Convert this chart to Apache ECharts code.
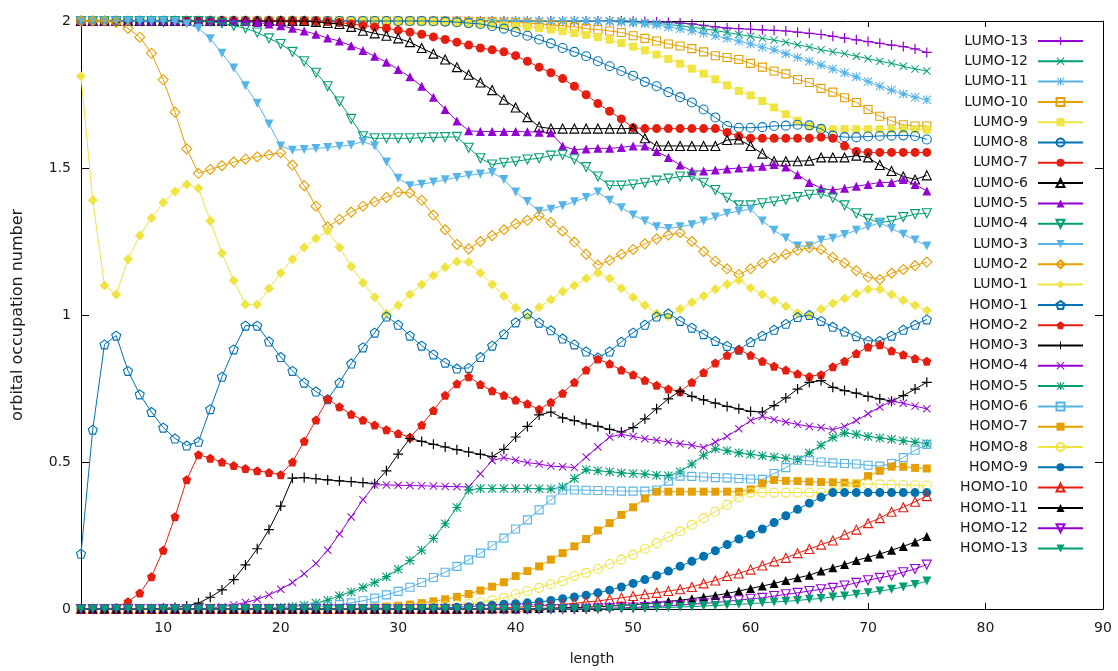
<!DOCTYPE html>
<html>
<head>
<meta charset="utf-8">
<script src="https://cdn.jsdelivr.net/npm/echarts@6/dist/echarts.min.js"></script>
<style>
  html, body { margin: 0; padding: 0; background: #ffffff; }
  #chart { width: 1118px; height: 671px; }
</style>
</head>
<body>
<div id="chart"></div>
<script>
// chain length (x)
const lengths = [3,4,5,6,7,8,9,10,11,12,13,14,15,16,17,18,19,20,21,22,23,24,25,26,27,28,29,30,31,32,33,34,35,36,37,38,39,40,41,42,43,44,45,46,47,48,49,50,51,52,53,54,55,56,57,58,59,60,61,62,63,64,65,66,67,68,69,70,71,72,73,74,75];

const xTicks = [10, 20, 30, 40, 50, 60, 70, 80, 90];

// occupation numbers, one list per natural orbital
const LUMO13 = [2,2,2,2,2,2,2,2,2,2, 2,2,2,2,2,2,2,2,2,2, 2,2,2,2,2,2,2,2,2,2, 2,2,2,2,2,2,2,2,2,2,
  2,2,2,2,2,2,2,1.999,1.998,1.997, 1.995,1.993,1.99,1.985,1.98,1.976,1.974,1.972,1.97,1.968,
  1.966,1.962,1.958,1.954,1.948,1.942,1.936,1.93,1.924,1.918, 1.913,1.905,1.893];
const LUMO12 = [2,2,2,2,2,2,2,2,2,2, 2,2,2,2,2,2,2,2,2,2, 2,2,2,2,2,2,2,2,2,2, 2,2,2,2,2,2,2,2,2,2,
  2,2,2,2,2,2,2,1.998,1.995,1.992, 1.988,1.984,1.979,1.974,1.967,1.961,1.954,1.948,1.941,1.935,
  1.928,1.919,1.911,1.902,1.895,1.889,1.88,1.872,1.863,1.856, 1.846,1.837,1.83];
const LUMO11 = [2,2,2,2,2,2,2,2,2,2, 2,2,2,2,2,2,2,2,2,2, 2,2,2,2,2,2,2,2,2,2, 2,2,2,2,2,2,2,2,2,2,
  2,2,2,2,2,1.998,1.996,1.994,1.991,1.987, 1.98,1.974,1.967,1.958,1.95,1.941,1.932,1.922,1.911,1.902,
  1.889,1.876,1.863,1.85,1.837,1.824,1.81,1.794,1.778,1.765, 1.752,1.741,1.732];
const LUMO10 = [2,2,2,2,2,2,2,2,2,2, 2,2,2,2,2,2,2,2,2,2, 2,2,2,2,2,2,2,2,2,2,
  2,2,2,1.999,1.998,1.997,1.996,1.995,1.993,1.99, 1.987,1.984,1.98,1.974,1.971,1.966,1.961,1.95,1.941,1.932,
  1.922,1.915,1.906,1.895,1.882,1.876,1.869,1.856,1.843,1.83, 1.82,1.801,1.791,1.771,1.758,1.739,1.723,1.699,1.676,1.66,
  1.647,1.643,1.643];
const LUMO9 = [2,2,2,2,2,2,2,2,2,2, 2,2,2,2,2,2,2,2,2,2, 2,2,2,2,2,2,2,2,1.999,1.998,
  1.997,1.996,1.994,1.992,1.99,1.987,1.984,1.982,1.979,1.976, 1.971,1.965,1.959,1.953,1.945,1.936,1.925,1.913,1.9,1.886,
  1.871,1.855,1.838,1.821,1.802,1.781,1.762,1.747,1.728,1.706, 1.683,1.661,1.642,1.634,1.632,1.632,1.632,1.632,1.632,1.632,
  1.632,1.632,1.63];
const LUMO8 = [2,2,2,2,2,2,2,2,2,2, 2,2,2,2,2,2,2,2,2,2, 2,2,2,2,2,2,2,2,2,2,
  1.999,1.998,1.996,1.993,1.99,1.982,1.974,1.963,1.95,1.937, 1.924,1.908,1.895,1.88,1.863,1.846,1.83,1.814,1.793,1.778,
  1.758,1.741,1.723,1.699,1.672,1.643,1.637,1.637,1.639,1.643, 1.644,1.647,1.645,1.633,1.61,1.605,1.605,1.607,1.609,1.61,
  1.611,1.609,1.597];
const LUMO7 = [2,2,2,2,2,2,2,2,2,2, 2,2,2,2,2,2,2,2,2,2,
  2,1.998,1.995,1.99,1.985,1.98,1.975,1.968,1.962,1.955, 1.946,1.937,1.928,1.918,1.908,1.902,1.895,1.882,1.863,1.843,
  1.824,1.804,1.778,1.749,1.719,1.693,1.667,1.637,1.634,1.634, 1.634,1.634,1.634,1.634,1.634,1.621,1.608,1.601,1.601,1.601,
  1.601,1.601,1.601,1.605,1.601,1.575,1.556,1.553,1.553,1.553, 1.553,1.553,1.553];
const LUMO6 = [2,2,2,2,2,2,2,2,2,2, 2,2,2,2,2,2,2,2,2,2,
  1.997,1.993,1.99,1.98,1.967,1.958,1.95,1.941,1.928,1.908, 1.889,1.869,1.843,1.817,1.791,1.765,1.732,1.706,1.673,1.64,
  1.634,1.634,1.634,1.634,1.634,1.634,1.634,1.634,1.601,1.575, 1.575,1.575,1.575,1.575,1.575,1.595,1.597,1.575,1.549,1.523,
  1.523,1.523,1.525,1.536,1.536,1.536,1.542,1.536,1.51,1.49, 1.471,1.461,1.475];
const LUMO5 = [2,2,2,2,2,2,2,2,2,2, 2,2,2,2,1.998,1.995,1.99,1.984,1.975,1.966,
  1.955,1.942,1.932,1.916,1.9,1.88,1.86,1.835,1.81,1.778, 1.741,1.699,1.66,1.627,1.624,1.624,1.624,1.624,1.623,1.622,
  1.62,1.575,1.562,1.565,1.567,1.567,1.57,1.575,1.575,1.556, 1.536,1.51,1.49,1.49,1.493,1.497,1.5,1.503,1.506,1.512,
  1.503,1.477,1.451,1.431,1.425,1.431,1.438,1.444,1.451,1.451, 1.461,1.444,1.422];
const LUMO4 = [2,2,2,2,2,2,2,2,2,2, 2,1.998,1.992,1.984,1.975,1.961,1.941,1.922,1.895,1.863,
  1.824,1.778,1.726,1.667,1.608,1.601,1.601,1.601,1.601,1.603, 1.604,1.605,1.606,1.569,1.533,1.512,1.518,1.522,1.529,1.533,
  1.542,1.545,1.53,1.503,1.471,1.44,1.44,1.444,1.45,1.457, 1.464,1.471,1.471,1.45,1.425,1.399,1.373,1.373,1.38,1.386,
  1.392,1.401,1.409,1.412,1.399,1.373,1.346,1.327,1.314,1.32, 1.333,1.343,1.346];
const LUMO3 = [2,2,2,2,2,2,2,2,1.998,1.99, 1.975,1.94,1.89,1.84,1.78,1.72,1.65,1.575,1.56,1.563,
  1.566,1.57,1.574,1.578,1.59,1.575,1.52,1.465,1.44,1.445, 1.452,1.46,1.468,1.475,1.48,1.485,1.461,1.418,1.386,1.353,
  1.36,1.372,1.385,1.4,1.418,1.39,1.365,1.34,1.32,1.3, 1.294,1.3,1.307,1.32,1.333,1.346,1.353,1.36,1.32,1.288,
  1.262,1.235,1.235,1.255,1.261,1.274,1.288,1.3,1.314,1.294, 1.275,1.255,1.235];
const LUMO2 = [2,2,2,1.995,1.975,1.945,1.89,1.8,1.69,1.565, 1.482,1.495,1.508,1.52,1.53,1.538,1.545,1.552,1.51,1.44,
  1.37,1.3,1.325,1.35,1.37,1.385,1.4,1.418,1.415,1.39, 1.34,1.29,1.24,1.225,1.25,1.27,1.29,1.31,1.322,1.338,
  1.315,1.285,1.248,1.207,1.17,1.186,1.207,1.223,1.242,1.259, 1.272,1.28,1.25,1.216,1.183,1.157,1.138,1.157,1.177,1.194,
  1.207,1.22,1.229,1.223,1.196,1.177,1.151,1.129,1.121,1.142, 1.155,1.168,1.18];
const LUMO1 = [1.812,1.39,1.1,1.07,1.19,1.27,1.33,1.383,1.42,1.444, 1.431,1.32,1.21,1.117,1.036,1.036,1.09,1.143,1.19,1.23,
  1.26,1.286,1.23,1.165,1.11,1.06,1.005,1.033,1.07,1.104, 1.134,1.162,1.182,1.18,1.143,1.104,1.065,1.025,0.995,1.026,
  1.052,1.08,1.1,1.124,1.144,1.124,1.091,1.06,1.033,1.005, 0.995,1.02,1.043,1.065,1.088,1.105,1.118,1.092,1.07,1.05,
  1.03,1.007,1.0,1.02,1.04,1.056,1.072,1.088,1.088,1.07, 1.05,1.033,1.015];
const HOMO1 = [0.188,0.61,0.9,0.93,0.81,0.73,0.67,0.617,0.58,0.556, 0.569,0.68,0.79,0.883,0.964,0.964,0.91,0.857,0.81,0.77,
  0.74,0.714,0.77,0.835,0.89,0.94,0.995,0.967,0.93,0.896, 0.866,0.838,0.818,0.82,0.857,0.896,0.935,0.975,1.005,0.974,
  0.948,0.92,0.9,0.876,0.856,0.876,0.909,0.94,0.967,0.995, 1.005,0.98,0.957,0.935,0.912,0.895,0.882,0.908,0.93,0.95,
  0.97,0.993,1.0,0.98,0.96,0.944,0.928,0.912,0.912,0.93, 0.95,0.967,0.985];
const HOMO2 = [0,0,0,0.005,0.025,0.054,0.11,0.2,0.314,0.44, 0.525,0.513,0.5,0.488,0.478,0.47,0.464,0.457,0.5,0.571,
  0.643,0.714,0.688,0.662,0.643,0.626,0.61,0.597,0.584,0.626, 0.675,0.727,0.766,0.79,0.764,0.742,0.727,0.711,0.698,0.679,
  0.703,0.734,0.771,0.813,0.85,0.834,0.813,0.797,0.778,0.761, 0.748,0.739,0.771,0.804,0.837,0.863,0.882,0.863,0.843,0.826,
  0.813,0.8,0.791,0.797,0.824,0.843,0.869,0.891,0.899,0.878, 0.865,0.852,0.843];
const HOMO3 = [0,0,0,0,0,0,0,0.002,0.005,0.01, 0.02,0.04,0.065,0.1,0.15,0.205,0.27,0.35,0.445,0.447,
  0.443,0.439,0.436,0.433,0.43,0.426,0.47,0.527,0.58,0.57, 0.56,0.551,0.542,0.534,0.526,0.518,0.543,0.585,0.621,0.66,
  0.67,0.65,0.641,0.63,0.621,0.611,0.602,0.617,0.647,0.681, 0.715,0.741,0.723,0.711,0.7,0.689,0.681,0.672,0.67,0.692,
  0.718,0.748,0.771,0.777,0.754,0.743,0.734,0.723,0.715,0.707, 0.726,0.748,0.771];
const HOMO4 = [0,0,0,0,0,0,0,0,0,0, 0,0.004,0.008,0.014,0.022,0.033,0.048,0.067,0.09,0.12,
  0.155,0.2,0.255,0.313,0.372,0.422,0.422,0.421,0.42,0.419, 0.418,0.417,0.416,0.415,0.46,0.505,0.515,0.506,0.498,0.493,
  0.486,0.484,0.481,0.517,0.551,0.585,0.594,0.587,0.579,0.574, 0.568,0.562,0.557,0.549,0.568,0.587,0.613,0.641,0.655,0.644,
  0.636,0.628,0.621,0.617,0.61,0.621,0.641,0.664,0.687,0.707, 0.7,0.69,0.681];
const HOMO5 = [0,0,0,0,0,0,0,0,0,0, 0,0,0,0,0,0,0.003,0.005,0.008,0.013,
  0.02,0.03,0.045,0.058,0.073,0.09,0.11,0.135,0.165,0.2, 0.24,0.29,0.345,0.405,0.41,0.41,0.41,0.41,0.41,0.409,
  0.408,0.415,0.444,0.474,0.47,0.467,0.463,0.461,0.459,0.455, 0.453,0.467,0.493,0.523,0.545,0.538,0.531,0.526,0.521,0.517,
  0.513,0.508,0.531,0.557,0.583,0.599,0.594,0.587,0.582,0.577, 0.572,0.568,0.562];
const HOMO6 = [0,0,0,0,0,0,0,0,0,0, 0,0,0,0,0,0,0,0,0,0.003,
  0.006,0.01,0.015,0.021,0.028,0.037,0.048,0.06,0.074,0.09, 0.107,0.125,0.145,0.167,0.19,0.215,0.241,0.272,0.303,0.337,
  0.371,0.405,0.405,0.404,0.403,0.402,0.401,0.401,0.401,0.405, 0.435,0.452,0.451,0.449,0.447,0.446,0.444,0.442,0.441,0.461,
  0.481,0.506,0.504,0.5,0.497,0.495,0.493,0.489,0.486,0.495, 0.515,0.54,0.56];
const HOMO7 = [0,0,0,0,0,0,0,0,0,0, 0,0,0,0,0,0,0,0,0,0,
  0,0,0.001,0.002,0.003,0.005,0.008,0.011,0.015,0.02, 0.026,0.033,0.041,0.051,0.063,0.076,0.091,0.112,0.129,0.145,
  0.168,0.19,0.213,0.238,0.267,0.292,0.32,0.346,0.376,0.399, 0.399,0.399,0.399,0.399,0.399,0.399,0.399,0.407,0.427,0.439,
  0.436,0.435,0.433,0.432,0.431,0.43,0.427,0.452,0.47,0.484, 0.484,0.48,0.478];
const HOMO8 = [0,0,0,0,0,0,0,0,0,0, 0,0,0,0,0,0,0,0,0,0,
  0,0,0,0,0,0.001,0.0015,0.002,0.003,0.005, 0.007,0.01,0.013,0.018,0.023,0.03,0.038,0.05,0.061,0.072,
  0.084,0.095,0.112,0.123,0.136,0.153,0.168,0.185,0.204,0.224, 0.245,0.264,0.286,0.309,0.331,0.354,0.38,0.396,0.396,0.396,
  0.396,0.396,0.396,0.396,0.399,0.416,0.425,0.425,0.424,0.423, 0.422,0.421,0.42];
const HOMO9 = [0,0,0,0,0,0,0,0,0,0, 0,0,0,0,0,0,0,0,0,0,
  0,0,0,0,0,0,0,0,0.001,0.002, 0.003,0.004,0.006,0.008,0.01,0.013,0.016,0.018,0.021,0.024,
  0.029,0.035,0.041,0.047,0.055,0.064,0.075,0.087,0.1,0.114, 0.129,0.145,0.162,0.179,0.198,0.219,0.238,0.253,0.272,0.294,
  0.317,0.339,0.36,0.38,0.396,0.396,0.396,0.396,0.396,0.396, 0.396,0.396,0.396];
const HOMO10 = [0,0,0,0,0,0,0,0,0,0, 0,0,0,0,0,0,0,0,0,0, 0,0,0,0,0,0,0,0,0,0,
  0,0,0,0.001,0.002,0.003,0.004,0.006,0.008,0.01, 0.013,0.016,0.019,0.024,0.027,0.033,0.038,0.044,0.05,0.055,
  0.061,0.067,0.075,0.087,0.097,0.112,0.121,0.134,0.148,0.162, 0.174,0.19,0.204,0.219,0.233,0.253,0.27,0.292,0.309,0.331,
  0.346,0.365,0.384];
const HOMO11 = [0,0,0,0,0,0,0,0,0,0, 0,0,0,0,0,0,0,0,0,0, 0,0,0,0,0,0,0,0,0,0,
  0,0,0,0,0,0,0,0,0.001,0.002, 0.003,0.004,0.005,0.006,0.008,0.01,0.012,0.015,0.018,0.021,
  0.026,0.03,0.035,0.041,0.046,0.053,0.061,0.07,0.078,0.087, 0.097,0.106,0.115,0.129,0.14,0.151,0.165,0.176,0.187,0.2,
  0.213,0.228,0.247];
const HOMO12 = [0,0,0,0,0,0,0,0,0,0, 0,0,0,0,0,0,0,0,0,0, 0,0,0,0,0,0,0,0,0,0, 0,0,0,0,0,0,0,0,0,0,
  0,0,0,0.001,0.002,0.003,0.004,0.005,0.007,0.009, 0.011,0.013,0.016,0.019,0.022,0.026,0.03,0.035,0.038,0.044,
  0.05,0.055,0.061,0.067,0.072,0.08,0.089,0.098,0.106,0.114, 0.125,0.136,0.151];
const HOMO13 = [0,0,0,0,0,0,0,0,0,0, 0,0,0,0,0,0,0,0,0,0, 0,0,0,0,0,0,0,0,0,0, 0,0,0,0,0,0,0,0,0,0,
  0,0,0,0,0,0,0.001,0.002,0.003,0.004, 0.005,0.007,0.008,0.01,0.012,0.014,0.016,0.018,0.021,0.024,
  0.026,0.029,0.033,0.036,0.041,0.044,0.05,0.055,0.061,0.067, 0.075,0.083,0.095];

const orbitalNames = ['LUMO-13','LUMO-12','LUMO-11','LUMO-10','LUMO-9','LUMO-8','LUMO-7','LUMO-6','LUMO-5',
  'LUMO-4','LUMO-3','LUMO-2','LUMO-1','HOMO-1','HOMO-2','HOMO-3','HOMO-4','HOMO-5','HOMO-6','HOMO-7',
  'HOMO-8','HOMO-9','HOMO-10','HOMO-11','HOMO-12','HOMO-13'];
const orbitalValues = [LUMO13, LUMO12, LUMO11, LUMO10, LUMO9, LUMO8, LUMO7, LUMO6, LUMO5, LUMO4, LUMO3, LUMO2, LUMO1,
  HOMO1, HOMO2, HOMO3, HOMO4, HOMO5, HOMO6, HOMO7, HOMO8, HOMO9, HOMO10, HOMO11, HOMO12, HOMO13];

// line colours, cycled
const palette = ['#9400d3', '#009e73', '#56b4e9', '#e69f00', '#f0e442', '#0072b2', '#e51e10', '#000000'];

// marker shapes, cycled
const PLUS = 'path://M4.4,0H5.6V4.4H10V5.6H5.6V10H4.4V5.6H0V4.4H4.4Z';
const CROSS = 'path://M0,0.85L0.85,0L5,4.15L9.15,0L10,0.85L5.85,5L10,9.15L9.15,10L5,5.85L0.85,10L0,9.15L4.15,5Z';
const STAR = 'path://M4.4,0H5.6V4.4H10V5.6H5.6V10H4.4V5.6H0V4.4H4.4Z M0,0.85L0.85,0L5,4.15L9.15,0L10,0.85L5.85,5L10,9.15L9.15,10L5,5.85L0.85,10L0,9.15L4.15,5Z';
const PENTAGON = 'path://M5,0L9.76,3.45L7.94,9.05L2.06,9.05L0.24,3.45Z';
const markers = [
  { symbol: PLUS, size: 10, open: false },
  { symbol: CROSS, size: 8, open: false },
  { symbol: STAR, size: 9, open: false },
  { symbol: 'rect', size: 8, open: true },
  { symbol: 'rect', size: 8, open: false },
  { symbol: 'circle', size: 9, open: true },
  { symbol: 'circle', size: 9, open: false },
  { symbol: 'triangle', size: 9, open: true },
  { symbol: 'triangle', size: 9, open: false },
  { symbol: 'triangle', size: 9, open: true, rotate: 180 },
  { symbol: 'triangle', size: 9, open: false, rotate: 180 },
  { symbol: 'diamond', size: 10, open: true },
  { symbol: 'diamond', size: 10, open: false },
  { symbol: PENTAGON, size: 9, open: true },
  { symbol: PENTAGON, size: 9, open: false }
];

const FONT = 'DejaVu Sans';
const TEXT = '#1a1a1a';

const series = orbitalNames.map(function (name, i) {
  const color = palette[i % palette.length];
  const m = markers[i % markers.length];
  return {
    name: name,
    type: 'line',
    data: lengths.map(function (x, j) { return [x, orbitalValues[i][j]]; }),
    symbol: m.symbol,
    symbolSize: m.size,
    symbolRotate: m.rotate || 0,
    showSymbol: true,
    showAllSymbol: true,
    clip: false,
    animation: false,
    lineStyle: { color: color, width: 1 },
    itemStyle: m.open
      ? { color: 'rgba(255,255,255,0)', borderColor: color, borderWidth: 1.1 }
      : { color: color, borderWidth: 0 },
    emphasis: { disabled: true },
    z: 2 + i * 0.01
  };
});

const chart = echarts.init(document.getElementById('chart'), null, { renderer: 'canvas' });
chart.setOption({
  backgroundColor: '#ffffff',
  animation: false,
  textStyle: { fontFamily: FONT },
  grid: { left: 81, right: 15, top: 21, bottom: 58, containLabel: false },
  legend: {
    data: orbitalNames,
    orient: 'vertical',
    align: 'right',
    right: 34,
    top: 34,
    padding: 0,
    itemWidth: 45,
    itemHeight: 10,
    itemGap: 6.3,
    selectedMode: false,
    textStyle: { fontFamily: FONT, fontSize: 14, color: TEXT, padding: [0, 5, 0, 0] }
  },
  xAxis: [{
    type: 'value',
    min: 3,
    max: 90,
    name: 'length',
    nameLocation: 'middle',
    nameGap: 43,
    nameTextStyle: { fontFamily: FONT, fontSize: 14, color: TEXT },
    axisLine: { show: true, onZero: false, lineStyle: { color: '#000', width: 1 } },
    axisTick: { show: true, inside: true, length: 6, customValues: xTicks, lineStyle: { color: '#000' } },
    axisLabel: { show: true, customValues: xTicks, margin: 12, fontFamily: FONT, fontSize: 14, color: TEXT },
    splitLine: { show: false }
  }, {
    type: 'value',
    position: 'top',
    min: 3,
    max: 90,
    axisLine: { show: true, onZero: false, lineStyle: { color: '#000', width: 1 } },
    axisTick: { show: true, inside: true, length: 6, customValues: xTicks, lineStyle: { color: '#000' } },
    axisLabel: { show: false },
    splitLine: { show: false }
  }],
  yAxis: [{
    type: 'value',
    min: 0,
    max: 2,
    interval: 0.5,
    name: 'orbital occupation number',
    nameLocation: 'middle',
    nameGap: 55,
    nameTextStyle: { fontFamily: FONT, fontSize: 16, color: TEXT },
    axisLine: { show: true, onZero: false, lineStyle: { color: '#000', width: 1 } },
    axisTick: { show: true, inside: true, length: 8, lineStyle: { color: '#000' } },
    axisLabel: { margin: 10, fontFamily: FONT, fontSize: 14, color: TEXT },
    splitLine: { show: false }
  }, {
    type: 'value',
    position: 'right',
    min: 0,
    max: 2,
    interval: 0.5,
    axisLine: { show: true, onZero: false, lineStyle: { color: '#000', width: 1 } },
    axisTick: { show: true, inside: true, length: 8, lineStyle: { color: '#000' } },
    axisLabel: { show: false },
    splitLine: { show: false }
  }],
  series: series
});
</script>
</body>
</html>
